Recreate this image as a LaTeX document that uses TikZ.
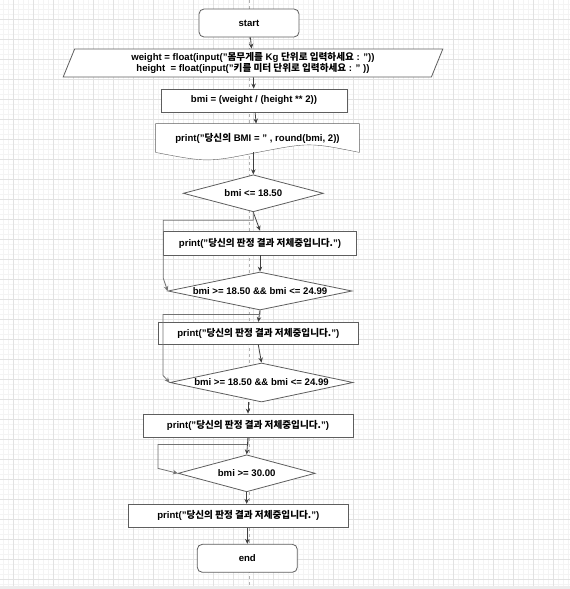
\documentclass[tikz,border=0pt]{standalone}
\usepackage{fontspec}
\setmainfont{Liberation Sans}
\newfontfamily\krfont{Noto Sans CJK KR}
\newcommand{\hangul}[1]{{\krfont #1}}
\usetikzlibrary{arrows.meta,shapes.geometric,backgrounds}
\definecolor{edge}{HTML}{5E5E5E}
\definecolor{gridmaj}{HTML}{E2E2E2}
\definecolor{gridmin}{HTML}{F4F4F4}
\tikzset{
  fterm/.style={draw=edge,fill=white,rounded corners=5pt,minimum width=100pt,minimum height=28pt,inner sep=0pt},
  fproc/.style={draw=edge,fill=white,minimum height=23pt,inner sep=0pt},
  fdec/.style={diamond,draw=edge,fill=white,inner sep=0pt},
  fio/.style={trapezium,trapezium left angle=70,trapezium right angle=110,trapezium stretches=true,draw=edge,fill=white,align=center,inner sep=0pt},
  farr/.style={-{Stealth[length=5pt,width=4.5pt]},line width=0.8pt,draw=black!75},
  floop/.style={farr,draw=black!55}
}

\begin{document}
\begin{tikzpicture}[x=1pt,y=-1pt,line width=0.8pt,font=\fontsize{9.6}{11.3}\selectfont\bfseries]
  \useasboundingbox (0,0) rectangle (570,589);
  % nodes
  \node[fterm] (start) at (249,23) {start};
  \node[fio,minimum width=380pt,minimum height=28pt] (input) at (253,63)
     {weight = float(input("\hangul{몸무게를} Kg \hangul{단위로 입력하세요} : "))\\
      height\ \ = float(input("\hangul{키를 미터 단위로 입력하세요} : " ))};
  \node[fproc,minimum width=186pt] (bmi) at (254,100.5) {bmi = (weight / (height ** 2))};
  \node[minimum width=203pt,minimum height=28pt,inner sep=0pt] (doc) at (257.5,138)
     {print("\hangul{당신의} BMI = " , round(bmi, 2))};
  \node[fdec,aspect=3.8,minimum width=140pt,minimum height=37pt] (d1) at (253.3,193.3) {bmi <= 18.50};
  \node[fproc,minimum width=193pt,minimum height=24pt] (p1) at (260,243) {print("\hangul{당신의 판정 결과 저체중입니다.}")};
  \node[fdec,aspect=4.8,minimum width=184pt,minimum height=38pt] (d2) at (260,291) {bmi >= 18.50 \&\& bmi <= 24.99};
  \node[fproc,minimum width=200pt,minimum height=22pt] (p2) at (258.3,333.3) {print("\hangul{당신의 판정 결과 저체중입니다.}")};
  \node[fdec,aspect=4.7,minimum width=183pt,minimum height=39pt] (d3) at (261.5,382.5) {bmi >= 18.50 \&\& bmi <= 24.99};
  \node[fproc,minimum width=210pt] (p3) at (248,425.5) {print("\hangul{당신의 판정 결과 저체중입니다.}")};
  \node[fdec,aspect=3.7,minimum width=137pt,minimum height=37pt] (d4) at (246.7,473.3) {bmi >= 30.00};
  \node[fproc,minimum width=220pt] (p4) at (238.3,515.8) {print("\hangul{당신의 판정 결과 저체중입니다.}")};
  \node[fterm] (end) at (247.3,558.3) {end};
  % background: grid, guide, document shape
  \begin{scope}[on background layer]
    \foreach \gx in {3,8,...,568} \draw[gridmin,line width=0.5pt] (\gx,0) -- (\gx,586);
    \foreach \gy in {4,9,...,584} \draw[gridmin,line width=0.5pt] (0,\gy) -- (570,\gy);
    \foreach \gx in {13,33,...,553} \draw[gridmaj,line width=0.7pt] (\gx,0) -- (\gx,586);
    \foreach \gy in {19,39,...,579} \draw[gridmaj,line width=0.7pt] (0,\gy) -- (570,\gy);
    \fill[black!7] (0,586) rectangle (570,589);
    \draw[black!30,dashed,line width=0.6pt] (249,0) -- (249,586);
    \draw[draw=edge,fill=white] (doc.north west) -- (doc.north east) -- (doc.south east)
       .. controls +(-50,-10) .. (doc.south) .. controls +(-50,10) .. (doc.south west) -- cycle;
  \end{scope}
  % connectors
  \draw[farr] (start) -- (input);
  \draw[farr] (input) -- (bmi);
  \draw[farr] (bmi) -- (doc);
  \draw[farr] (doc.south -| d1) -- (d1.north);
  \draw[farr] (d1.south) -- (p1.north);
  \draw[floop] (d1.south) |- ++(-90,8) -- ++(0,58) -- (d2.west);
  \draw[farr] (p1.south -| d2) -- (d2.north);
  \draw[farr] (d2.south) -- (p2.north);
  \draw[floop] (d2.south) |- ++(-97,4) -- ++(0,61) -- (d3.west);
  \draw[farr] (p2.south) -- (d3.north);
  \draw[farr] (d3.south -| p3) -- (p3.north);
  \draw[floop] (p3.south) |- ++(-90,7) -- ++(0,24) -- (d4.west);
  \draw[farr] (p3.south) -- (d4.north);
  \draw[farr] (d4.south) -- (d4.south |- p4.north);
  \draw[farr] (p4.south -| end) -- (end.north);
\end{tikzpicture}
\end{document}
